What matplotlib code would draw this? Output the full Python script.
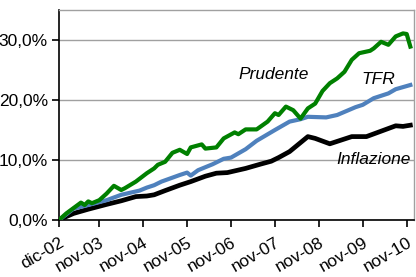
import matplotlib
matplotlib.use("Agg")
import matplotlib.pyplot as plt
from matplotlib.ticker import FuncFormatter

plt.rcParams['font.family'] = ['Liberation Sans Narrow', 'Liberation Sans', 'DejaVu Sans']

# months since dic-02 and cumulative returns (%)
prudente_m = [0, 2, 4, 6, 7, 8, 9, 11, 13, 15, 17, 18, 21, 24, 26, 27, 29, 31, 33, 35,
              36, 39, 40, 43, 45, 48, 49, 51, 54, 57, 59, 60, 62, 64, 66, 68, 70, 72,
              74, 76, 78, 80, 82, 85, 86, 88, 90, 92, 94, 95, 96]
prudente = [0.0, 1.1, 2.0, 2.9, 2.5, 3.1, 2.8, 3.3, 4.4, 5.7, 5.0, 5.3, 6.4, 7.8, 8.6, 9.2,
            9.7, 11.2, 11.7, 11.0, 12.1, 12.6, 11.9, 12.1, 13.6, 14.6, 14.3, 15.1, 15.1,
            16.4, 17.8, 17.5, 18.9, 18.3, 16.9, 18.6, 19.4, 21.5, 22.8, 23.6, 24.7, 26.7,
            27.8, 28.2, 28.6, 29.7, 29.2, 30.6, 31.1, 31.0, 28.9]

tfr_m = [0, 4, 8, 13, 17, 22, 24, 26, 28, 33, 35, 36, 38, 42, 45, 47, 51, 54, 59, 63,
         66, 68, 73, 76, 81, 83, 86, 90, 92, 96]
tfr = [0.0, 1.9, 2.5, 3.3, 4.2, 4.9, 5.4, 5.8, 6.4, 7.5, 7.9, 7.4, 8.3, 9.3, 10.2, 10.4,
       11.8, 13.2, 15.0, 16.4, 16.8, 17.2, 17.1, 17.5, 18.8, 19.2, 20.3, 21.1, 21.8, 22.5]

infl_m = [0, 1, 4, 8, 13, 17, 21, 24, 26, 29, 33, 36, 40, 43, 46, 51, 55, 58, 60, 63,
          68, 70, 74, 76, 80, 84, 88, 92, 94, 96]
inflazione = [0.0, 0.3, 1.1, 1.8, 2.6, 3.2, 3.9, 4.0, 4.2, 4.9, 5.8, 6.4, 7.3, 7.8, 7.9,
              8.6, 9.3, 9.8, 10.4, 11.4, 13.9, 13.6, 12.7, 13.1, 13.9, 13.9, 14.8, 15.7,
              15.6, 15.8]

tick_pos = [0, 11, 23, 35, 47, 59, 71, 83, 95]
tick_labels = ['dic-02', 'nov-03', 'nov-04', 'nov-05', 'nov-06', 'nov-07', 'nov-08',
               'nov-09', 'nov-10']

fig = plt.figure(figsize=(4.16, 2.77), dpi=100)
ax = fig.add_axes([59 / 416, 57 / 277, 355 / 416, 210 / 277])

ax.plot(infl_m, inflazione, color='black', lw=3.4, solid_joinstyle='round', zorder=3)
ax.plot(tfr_m, tfr, color='#4f81bd', lw=3.0, solid_joinstyle='round', zorder=4)
ax.plot(prudente_m, prudente, color='#008000', lw=3.0, solid_joinstyle='round', zorder=5)

ax.set_xlim(0, 97)
ax.set_ylim(0, 35)
ax.set_yticks([0, 10, 20, 30])
ax.yaxis.set_major_formatter(FuncFormatter(lambda v, p: f"{v:.1f}%".replace('.', ',')))
ax.set_xticks(tick_pos)
ax.set_xticklabels(tick_labels, rotation=30, ha='right', rotation_mode='anchor')
ax.tick_params(labelsize=12.5, length=5, width=1.2, direction='out')
ax.tick_params(axis='x', pad=6)
ax.tick_params(axis='y', pad=3)
ax.grid(axis='y', color='#a0a0a0', lw=1)
ax.set_axisbelow(True)

for s in ['left', 'bottom']:
    ax.spines[s].set_color('black')
    ax.spines[s].set_linewidth(1.2)
for s in ['top', 'right']:
    ax.spines[s].set_color('#a0a0a0')
    ax.spines[s].set_linewidth(1)

ax.text(58.7, 24.2, 'Prudente', style='italic', fontsize=12.5, ha='center', va='center')
ax.text(87.2, 23.5, 'TFR', style='italic', fontsize=12.5, ha='center', va='center')
ax.text(85.8, 10.0, 'Inflazione', style='italic', fontsize=12.5, ha='center', va='center')

fig.savefig('out.png', dpi=100)
